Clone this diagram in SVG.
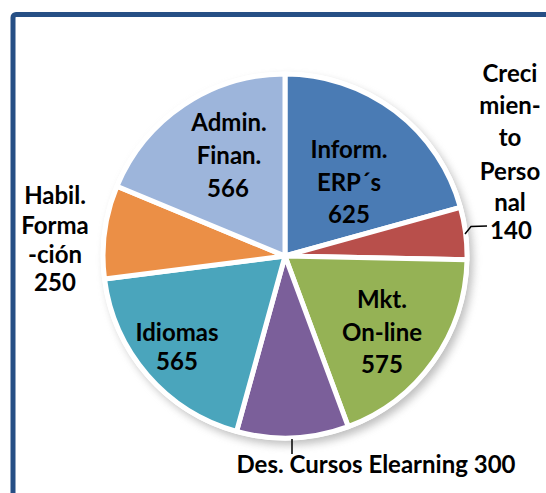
<svg xmlns="http://www.w3.org/2000/svg" width="546" height="493" viewBox="0 0 546 493">
<style>
.lbl{font-family:Lato,"Liberation Sans",sans-serif;font-weight:bold;font-size:24px;fill:#000;text-anchor:middle}
.slice{stroke:#fff;stroke-width:5;stroke-linejoin:round}
.lead{fill:none;stroke:#000;stroke-width:1.5}
</style>
<defs>
<filter id="sh" x="-20%" y="-20%" width="140%" height="140%">
<feGaussianBlur stdDeviation="4"/>
</filter>
</defs>
<rect x="0" y="0" width="546" height="493" fill="#fff"/>
<rect x="13" y="14.5" width="620" height="620" rx="3" fill="none" stroke="#264F85" stroke-width="5"/>
<circle cx="289" cy="261" r="184" fill="#8a8a8a" opacity="0.55" filter="url(#sh)"/>
<circle cx="285" cy="256" r="184.5" fill="#fff"/>
<g id="inform-erps">
<path class="slice" fill="#4A7BB4" d="M285,256 L285,74 A182,182 0 0 1 460.4,207.3 Z"/>
<text class="lbl" x="349" y="158">Inform.</text>
<text class="lbl" x="349" y="191">ERP´s</text>
<text class="lbl" x="349" y="223">625</text>
</g>
<g id="crecimiento-personal">
<path class="slice" fill="#B84F4B" d="M285,256 L460.4,207.3 A182,182 0 0 1 467,259.7 Z"/>
<text class="lbl" x="510" y="82">Creci</text>
<text class="lbl" x="510" y="114">mien-</text>
<text class="lbl" x="510" y="146">to</text>
<text class="lbl" x="510" y="180">Perso</text>
<text class="lbl" x="510" y="211">nal</text>
<text class="lbl" x="511" y="239">140</text>
</g>
<g id="mkt-online">
<path class="slice" fill="#95B255" d="M285,256 L467,259.7 A182,182 0 0 1 348.2,426.7 Z"/>
<text class="lbl" x="382" y="308">Mkt.</text>
<text class="lbl" x="382" y="341">On-line</text>
<text class="lbl" x="382" y="373">575</text>
</g>
<g id="des-cursos-elearning">
<path class="slice" fill="#7B5F9A" d="M285,256 L348.2,426.7 A182,182 0 0 1 236.6,431.4 Z"/>
<text class="lbl" x="376" y="473">Des. Cursos Elearning 300</text>
</g>
<g id="idiomas">
<path class="slice" fill="#4AA5BC" d="M285,256 L236.6,431.4 A182,182 0 0 1 104.5,278.9 Z"/>
<text class="lbl" x="177" y="341">Idiomas</text>
<text class="lbl" x="177" y="370">565</text>
</g>
<g id="habil-formacion">
<path class="slice" fill="#EB8F46" d="M285,256 L104.5,278.9 A182,182 0 0 1 116.9,186.2 Z"/>
<text class="lbl" x="55" y="204">Habil.</text>
<text class="lbl" x="55" y="234">Forma</text>
<text class="lbl" x="55" y="263">-ción</text>
<text class="lbl" x="55" y="291">250</text>
</g>
<g id="admin-finan">
<path class="slice" fill="#9DB5DB" d="M285,256 L116.9,186.2 A182,182 0 0 1 285,74 Z"/>
<text class="lbl" x="229" y="131">Admin.</text>
<text class="lbl" x="229" y="164">Finan.</text>
<text class="lbl" x="228" y="197">566</text>
</g>
<g id="connectors">
<polyline class="lead" points="465,234 471,226.5 487,226"/>
<line class="lead" x1="292" y1="439" x2="292" y2="454"/>
</g>
</svg>
